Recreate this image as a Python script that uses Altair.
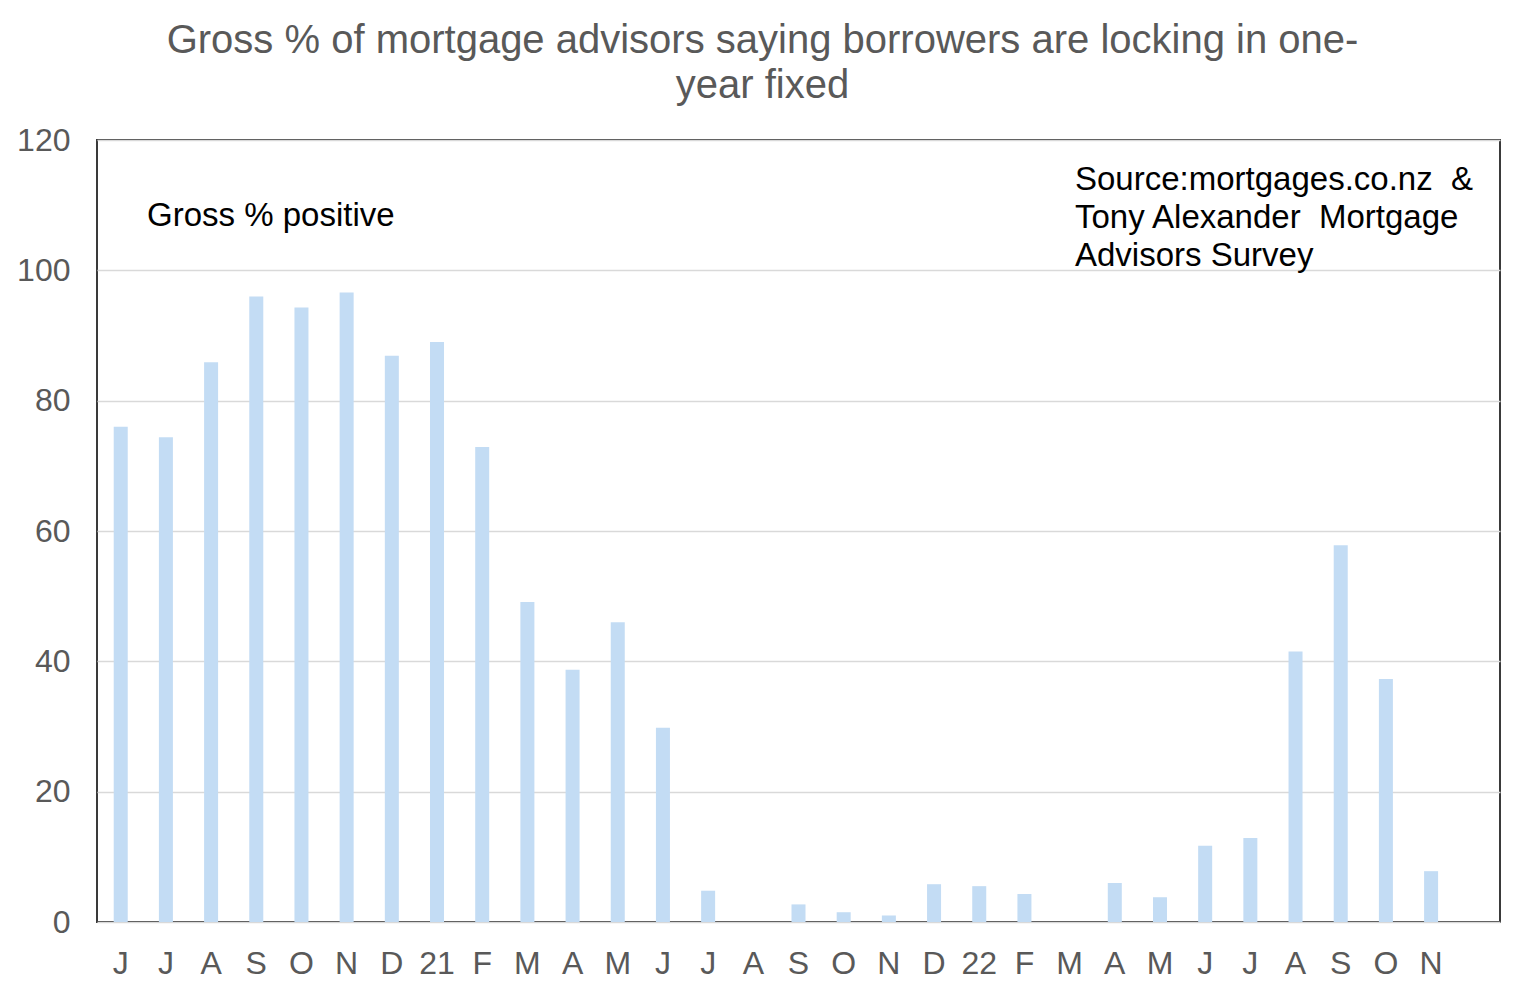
import altair as alt
import pandas as pd

labels = ["J", "J", "A", "S", "O", "N", "D", "21", "F", "M", "A", "M", "J", "J", "A",
          "S", "O", "N", "D", "22", "F", "M", "A", "M", "J", "J", "A", "S", "O", "N"]
values = [76, 74.4, 85.9, 96, 94.3, 96.6, 86.9, 89, 72.9, 49.1, 38.7, 46, 29.8, 4.8, 0,
          2.7, 1.5, 1.0, 5.8, 5.5, 4.3, 0, 6.0, 3.8, 11.7, 12.9, 41.5, 57.8, 37.3, 7.8]
y_ticks = [0, 20, 40, 60, 80, 100, 120]

keys = [f"{i:02d}_{l}" for i, l in enumerate(labels)]
# the category axis keeps one empty slot at the right end, as in the reference
domain = keys + [f"{len(keys):02d}_"]

df = pd.DataFrame({"key": keys, "value": values})

FONT = "Liberation Sans"
GREY = "#595959"
NB = "\u00a0"

bars = alt.Chart(df).mark_bar(color="#c3dcf4").encode(
    x=alt.X("key:N", sort=None, title=None,
            scale=alt.Scale(domain=domain, paddingInner=0.69, paddingOuter=0.37),
            axis=alt.Axis(labelExpr="split(datum.label, '_')[1]", labelAngle=0,
                          labelFontSize=32, labelColor=GREY, labelFont=FONT,
                          labelPadding=26, ticks=False, domain=False, grid=False)),
    y=alt.Y("value:Q", title=None,
            scale=alt.Scale(domain=[0, 120], nice=False),
            axis=alt.Axis(values=y_ticks, labelFontSize=32, labelColor=GREY, labelFont=FONT,
                          labelPadding=27, ticks=False, domain=False,
                          grid=True, gridColor="#d9d9d9", gridWidth=1.5)),
)

note_left = alt.Chart(pd.DataFrame({"t": ["Gross % positive"]})).mark_text(
    font=FONT, fontSize=33, color="black", align="left", baseline="middle"
).encode(x=alt.value(50), y=alt.value(76), text="t:N")

note_right = alt.Chart(pd.DataFrame({"t": [["Source:mortgages.co.nz" + NB + NB + "&",
                                             "Tony Alexander" + NB + NB + "Mortgage",
                                             "Advisors Survey"]]})).mark_text(
    font=FONT, fontSize=33, color="black", align="left", baseline="middle", lineHeight=38
).encode(x=alt.value(978), y=alt.value(40), text="t:N")

chart = alt.layer(bars, note_left, note_right).properties(
    width=1403,
    height=782,
    title=alt.TitleParams(
        ["Gross % of mortgage advisors saying borrowers are locking in one-", "year fixed"],
        font=FONT, fontSize=40, color=GREY, fontWeight="normal",
        anchor="middle", dx=-36, offset=18, lineHeight=45,
    ),
    autosize=alt.AutoSizeParams(type="none"),
    padding={"left": 89, "top": 132, "right": 17, "bottom": 65},
).configure_view(
    stroke="#3a3a3a", strokeWidth=2
)

chart.save("out.html", embed_options={"renderer": "svg", "actions": False})
